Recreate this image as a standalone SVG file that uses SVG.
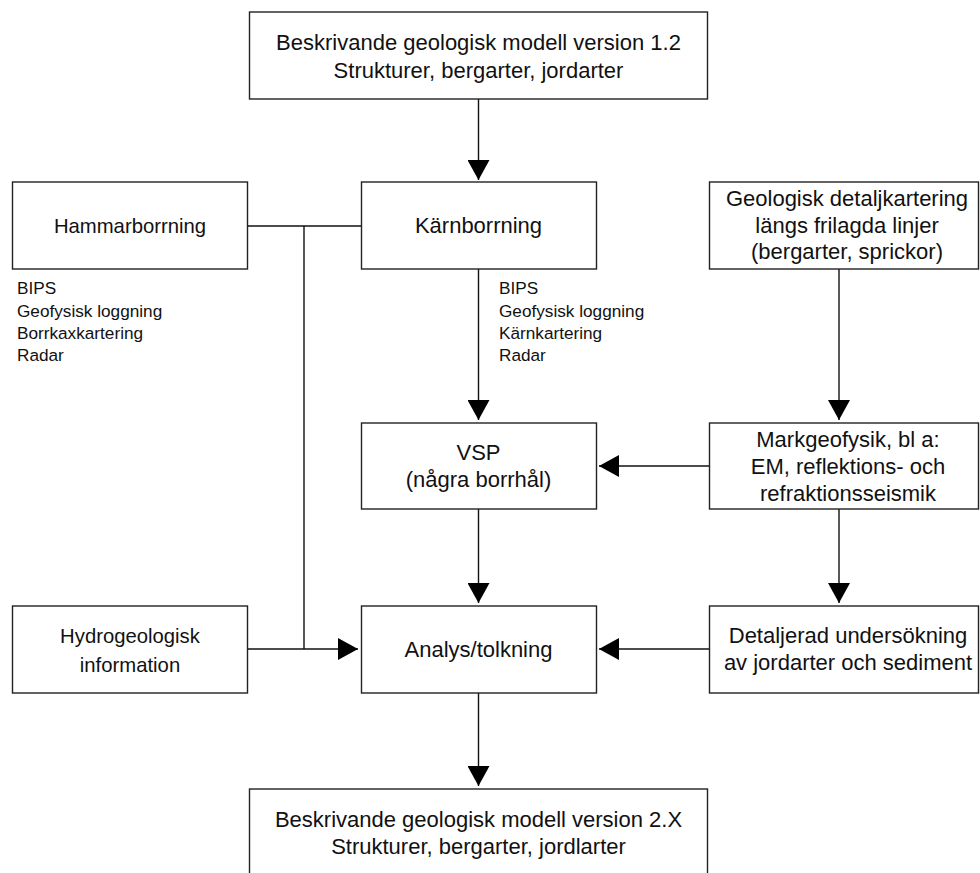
<svg xmlns="http://www.w3.org/2000/svg" width="980" height="873" viewBox="0 0 980 873">
  <style>
    .box { fill: #ffffff; stroke: #222; stroke-width: 1.4; }
    .t { font-family: "Liberation Sans", Arial, Helvetica, sans-serif; font-size: 22px; fill: #111; text-anchor: middle; }
    .ts { font-size: 20.3px; }
    .list { font-family: "Liberation Sans", Arial, Helvetica, sans-serif; font-size: 17.2px; fill: #111; }
    .c { fill: none; stroke: #111; stroke-width: 1.4; }
  </style>
  <defs>
    <marker id="arrow" viewBox="0 0 20 22" refX="20" refY="11" markerWidth="20" markerHeight="22" markerUnits="userSpaceOnUse" orient="auto">
      <path d="M0,0 L20,11 L0,22 Z" fill="#000"/>
    </marker>
  </defs>

  <rect width="980" height="873" fill="#ffffff"/>

  <!-- connectors -->
  <g id="connectors">
    <line class="c" x1="478.5" y1="99" x2="478.5" y2="180" marker-end="url(#arrow)"/>
    <line class="c" x1="247" y1="226" x2="361" y2="226"/>
    <line class="c" x1="304" y1="226" x2="304" y2="649"/>
    <line class="c" x1="247" y1="649" x2="358" y2="649" marker-end="url(#arrow)"/>
    <line class="c" x1="478.5" y1="269" x2="478.5" y2="420" marker-end="url(#arrow)"/>
    <line class="c" x1="839" y1="269" x2="839" y2="420" marker-end="url(#arrow)"/>
    <line class="c" x1="709" y1="466" x2="599" y2="466" marker-end="url(#arrow)"/>
    <line class="c" x1="478.5" y1="509" x2="478.5" y2="603" marker-end="url(#arrow)"/>
    <line class="c" x1="839" y1="509" x2="839" y2="603" marker-end="url(#arrow)"/>
    <line class="c" x1="709" y1="649" x2="599" y2="649" marker-end="url(#arrow)"/>
    <line class="c" x1="478.5" y1="693" x2="478.5" y2="786" marker-end="url(#arrow)"/>
  </g>

  <!-- nodes -->
  <g id="model-v12">
    <rect class="box" x="249.5" y="12" width="458" height="87"/>
    <text class="t" x="478.5" y="50">Beskrivande geologisk modell version 1.2</text>
    <text class="t" x="478.5" y="78">Strukturer, bergarter, jordarter</text>
  </g>

  <g id="hammarborrning">
    <rect class="box" x="12.5" y="182" width="235" height="87"/>
    <text class="t ts" x="130" y="233">Hammarborrning</text>
  </g>

  <g id="hammar-methods">
    <text class="list" x="17" y="294.3">BIPS</text>
    <text class="list" x="17" y="316.6">Geofysisk loggning</text>
    <text class="list" x="17" y="338.9">Borrkaxkartering</text>
    <text class="list" x="17" y="361.2">Radar</text>
  </g>

  <g id="karnborrning">
    <rect class="box" x="361.5" y="182" width="235" height="87"/>
    <text class="t" x="478.5" y="233">Kärnborrning</text>
  </g>

  <g id="karn-methods">
    <text class="list" x="499" y="294.3">BIPS</text>
    <text class="list" x="499" y="316.6">Geofysisk loggning</text>
    <text class="list" x="499" y="338.9">Kärnkartering</text>
    <text class="list" x="499" y="361.2">Radar</text>
  </g>

  <g id="geologisk-detaljkartering">
    <rect class="box" x="709.5" y="182" width="269" height="87"/>
    <text class="t" x="847" y="205.5">Geologisk detaljkartering</text>
    <text class="t" x="847" y="232.5">längs frilagda linjer</text>
    <text class="t" x="847" y="259">(bergarter, sprickor)</text>
  </g>

  <g id="vsp">
    <rect class="box" x="361.5" y="423" width="235" height="86"/>
    <text class="t" x="478.5" y="460">VSP</text>
    <text class="t" x="478.5" y="487">(några borrhål)</text>
  </g>

  <g id="markgeofysik">
    <rect class="box" x="709.5" y="423" width="269" height="86"/>
    <text class="t" x="848" y="447">Markgeofysik, bl a:</text>
    <text class="t" x="848" y="474">EM, reflektions- och</text>
    <text class="t" x="848" y="501">refraktionsseismik</text>
  </g>

  <g id="hydrogeologisk">
    <rect class="box" x="12.5" y="606" width="235" height="87"/>
    <text class="t ts" x="130" y="643">Hydrogeologisk</text>
    <text class="t ts" x="130" y="671.5">information</text>
  </g>

  <g id="analys">
    <rect class="box" x="361.5" y="606" width="235" height="87"/>
    <text class="t" x="478.5" y="657">Analys/tolkning</text>
  </g>

  <g id="detaljerad-undersokning">
    <rect class="box" x="709.5" y="606" width="269" height="87"/>
    <text class="t" x="848" y="643">Detaljerad undersökning</text>
    <text class="t" x="848" y="670">av jordarter och sediment</text>
  </g>

  <g id="model-v2x">
    <rect class="box" x="249.5" y="789" width="458" height="90"/>
    <text class="t" x="478.5" y="826.7">Beskrivande geologisk modell version 2.X</text>
    <text class="t" x="478.5" y="854">Strukturer, bergarter, jordlarter</text>
  </g>
</svg>
